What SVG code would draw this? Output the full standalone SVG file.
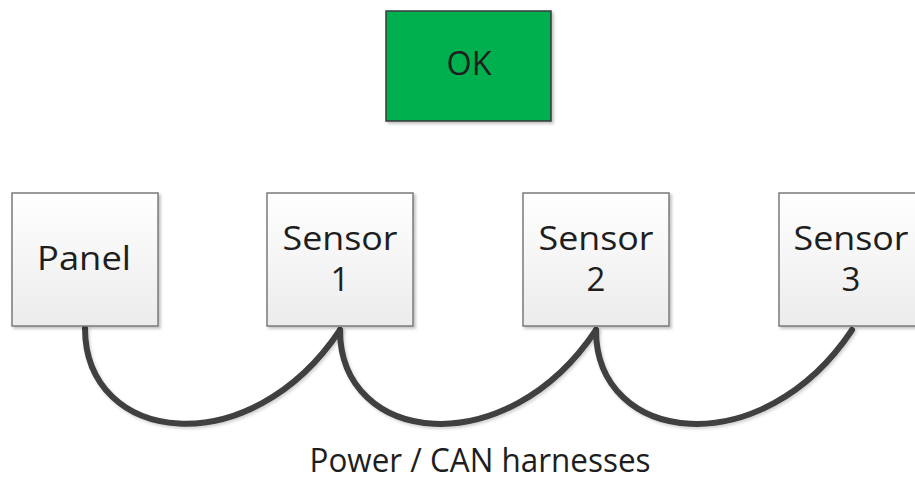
<svg xmlns="http://www.w3.org/2000/svg" width="915" height="482" viewBox="0 0 915 482">
  <style>
    .box { fill: url(#boxFill); stroke: #7a7a7a; stroke-width: 1.5; filter: url(#shadow); }
    .ok { fill: #00b050; stroke: #3a3a3a; stroke-width: 1.5; filter: url(#shadow); }
    .label { font-family: "Open Sans", "Noto Sans", sans-serif; font-size: 33px; fill: #1e1e1e; text-anchor: middle; }
    .cable { fill: none; stroke: #404040; stroke-width: 6; stroke-linecap: round; filter: url(#cableShadow); }
  </style>
  <defs>
    <linearGradient id="boxFill" x1="0" y1="0" x2="0" y2="1">
      <stop offset="0" stop-color="#ffffff"/>
      <stop offset="1" stop-color="#ececec"/>
    </linearGradient>
    <filter id="shadow" x="-10%" y="-10%" width="125%" height="125%">
      <feDropShadow dx="2" dy="2" stdDeviation="1.5" flood-color="#000" flood-opacity="0.25"/>
    </filter>
    <filter id="cableShadow" x="-10%" y="-10%" width="125%" height="130%">
      <feDropShadow dx="1.5" dy="2" stdDeviation="1.5" flood-color="#000" flood-opacity="0.18"/>
    </filter>
  </defs>

  <g id="connectors">
    <path class="cable" d="M85,328 C85,445 250,465 340,330"/>
    <path class="cable" d="M340,330 C340,445 506,465 596,330"/>
    <path class="cable" d="M596,330 C596,445 762,465 852,330"/>
  </g>

  <g id="ok">
    <rect class="ok" x="386" y="11" width="165" height="110"/>
    <text class="label" x="469" y="75" font-size="30" textLength="45" lengthAdjust="spacingAndGlyphs">OK</text>
  </g>

  <g id="panel">
    <rect class="box" x="12" y="193" width="146" height="133"/>
    <text class="label" x="84" y="270" textLength="94" lengthAdjust="spacingAndGlyphs">Panel</text>
  </g>

  <g id="sensor1">
    <rect class="box" x="267" y="193" width="146" height="133"/>
    <text class="label" x="340" y="250" textLength="115" lengthAdjust="spacingAndGlyphs">Sensor</text>
    <text class="label" x="340" y="291">1</text>
  </g>

  <g id="sensor2">
    <rect class="box" x="523" y="193" width="146" height="133"/>
    <text class="label" x="596" y="250" textLength="115" lengthAdjust="spacingAndGlyphs">Sensor</text>
    <text class="label" x="596" y="291">2</text>
  </g>

  <g id="sensor3">
    <rect class="box" x="779" y="193" width="146" height="133"/>
    <text class="label" x="851" y="250" textLength="115" lengthAdjust="spacingAndGlyphs">Sensor</text>
    <text class="label" x="851" y="291">3</text>
  </g>

  <text class="label" x="480" y="472" font-size="27" textLength="341" lengthAdjust="spacingAndGlyphs">Power / CAN harnesses</text>
</svg>
